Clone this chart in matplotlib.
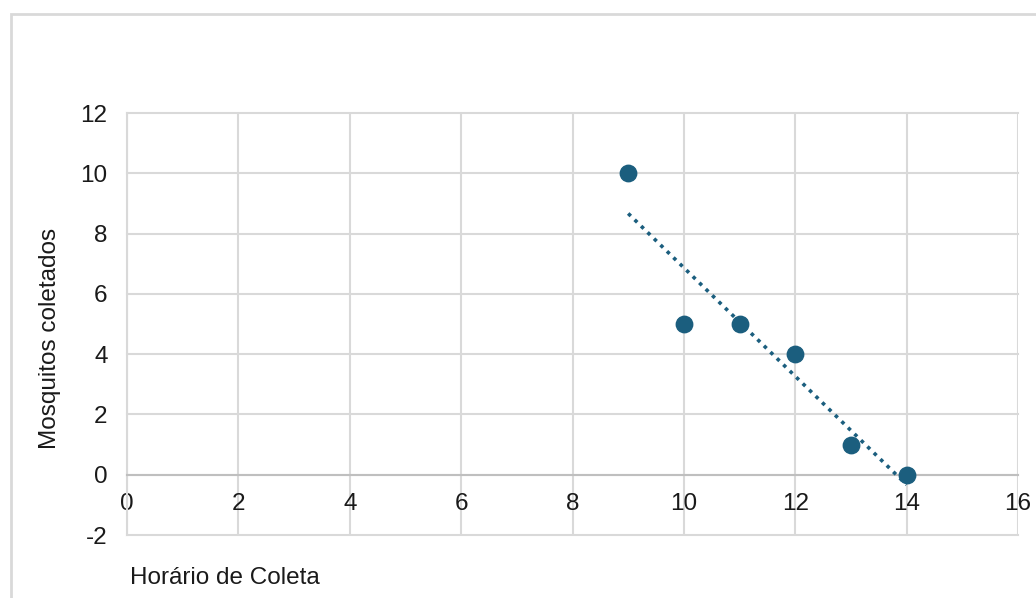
import numpy as np
import matplotlib.pyplot as plt
from matplotlib.patches import Rectangle

plt.rcParams['font.family'] = ['Liberation Sans', 'DejaVu Sans']
plt.rcParams['axes.unicode_minus'] = False

# data
horario = [9, 10, 11, 12, 13, 14]
mosquitos = [10, 5, 5, 4, 1, 0]
x_ticks = [0, 2, 4, 6, 8, 10, 12, 14, 16]
y_ticks = [-2, 0, 2, 4, 6, 8, 10, 12]

COR = '#1b5e7e'
GRADE = '#d9d9d9'
FS = 17.5

fig = plt.figure(figsize=(10.36, 5.98), dpi=100)
# outer chart border (cut off at right and bottom like the screenshot)
fig.patches.append(Rectangle((11/1036, -0.1), 1.2, 1 - 14/598 + 0.1, transform=fig.transFigure,
                             fill=False, edgecolor=GRADE, linewidth=2))

ax = fig.add_axes([127/1036, 1 - 535/598, (1018 - 127)/1036, (535 - 113)/598])
ax.set_xlim(0, 16)
ax.set_ylim(-2, 12)
ax.set_xticks(x_ticks)
ax.set_yticks(y_ticks)
ax.grid(True, color=GRADE, linewidth=1.5)
ax.set_axisbelow(True)
for g in ax.get_xgridlines() + ax.get_ygridlines():
    g.set_clip_on(False)

for s in ['top', 'right']:
    ax.spines[s].set_visible(False)
ax.spines['left'].set_color(GRADE)
ax.spines['left'].set_linewidth(1.5)
ax.spines['bottom'].set_position(('data', 0))
ax.spines['bottom'].set_color('#bfbfbf')
ax.spines['bottom'].set_linewidth(1.5)
ax.tick_params(length=0, labelsize=FS, colors='#1a1a1a')
ax.tick_params(axis='y', pad=14)
ax.tick_params(axis='x', pad=13)

# linear trendline
a, b = np.polyfit(horario, mosquitos, 1)
xt = np.array([min(horario), max(horario)])
ax.plot(xt, a * xt + b, linestyle=(0, (1, 1.5)), color=COR, linewidth=2.6, zorder=3)

ax.scatter(horario, mosquitos, s=140, color=COR, zorder=4, clip_on=False)

fig.text(50/1036, 1 - 338/598, 'Mosquitos coletados', rotation=90, ha='center', va='center',
         fontsize=FS, color='#1a1a1a')
fig.text(130/1036, 1 - 578/598, 'Horário de Coleta', ha='left', va='center',
         fontsize=FS, color='#1a1a1a')

fig.savefig('out.png', dpi=100)
